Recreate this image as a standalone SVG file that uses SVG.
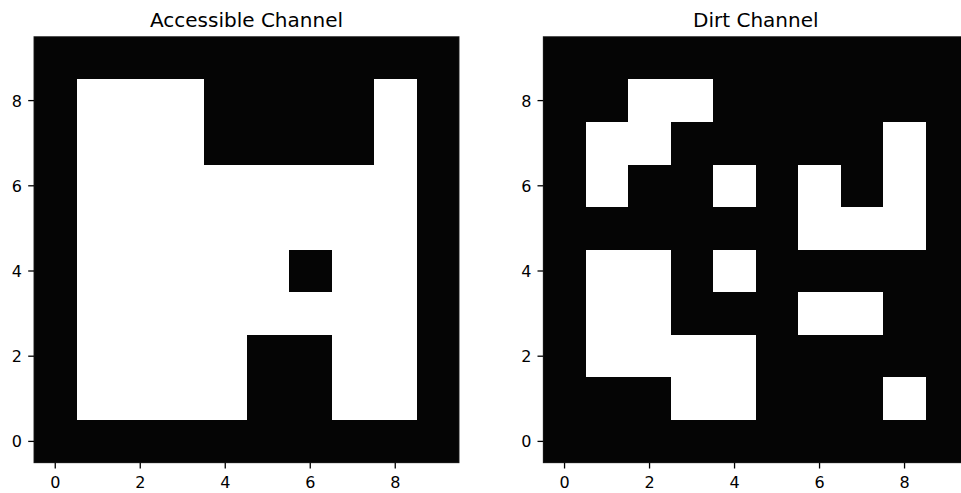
<svg xmlns="http://www.w3.org/2000/svg" width="961" height="493" viewBox="0 0 961 493">
  <style>
    .bg { fill: #ffffff; }
    .blk { fill: #050505; }
    .wht { fill: #ffffff; }
    .cells rect { shape-rendering: crispEdges; }
    .spine { fill: none; stroke: #1a1a1a; stroke-width: 0.9; }
    .tick { stroke: #000; stroke-width: 1.3; }
    .title { font-family: "DejaVu Sans", sans-serif; font-size: 20px; fill: #000; text-anchor: middle; }
    .tl { font-family: "DejaVu Sans", sans-serif; font-size: 16px; fill: #000; }
    .tx { text-anchor: middle; }
    .ty { text-anchor: end; }
  </style>
  <rect class="bg" x="0" y="0" width="961" height="493"/>

  <g id="accessible-channel">
    <text class="title" x="246.5" y="26.7">Accessible Channel</text>
    <g class="cells" transform="translate(34,36.7) scale(42.5,42.6)">
      <rect class="blk" x="0" y="0" width="10" height="10"/>
      <rect class="wht" x="1" y="1" width="8" height="8"/>
      <rect class="blk" x="4" y="1" width="4" height="2"/>
      <rect class="blk" x="6" y="5" width="1" height="1"/>
      <rect class="blk" x="5" y="7" width="2" height="2"/>
    </g>
    <rect class="spine" x="34" y="36.7" width="425" height="426"/>
    <g class="ticks">
      <line class="tick" x1="55.25" y1="462.7" x2="55.25" y2="468.5"/>
      <line class="tick" x1="140.25" y1="462.7" x2="140.25" y2="468.5"/>
      <line class="tick" x1="225.25" y1="462.7" x2="225.25" y2="468.5"/>
      <line class="tick" x1="310.25" y1="462.7" x2="310.25" y2="468.5"/>
      <line class="tick" x1="395.25" y1="462.7" x2="395.25" y2="468.5"/>
      <line class="tick" x1="28.2" y1="100.6" x2="34" y2="100.6"/>
      <line class="tick" x1="28.2" y1="185.8" x2="34" y2="185.8"/>
      <line class="tick" x1="28.2" y1="271" x2="34" y2="271"/>
      <line class="tick" x1="28.2" y1="356.2" x2="34" y2="356.2"/>
      <line class="tick" x1="28.2" y1="441.4" x2="34" y2="441.4"/>
    </g>
    <g class="tl tx">
      <text x="55.25" y="488">0</text>
      <text x="140.25" y="488">2</text>
      <text x="225.25" y="488">4</text>
      <text x="310.25" y="488">6</text>
      <text x="395.25" y="488">8</text>
    </g>
    <g class="tl ty">
      <text x="22" y="106.6">8</text>
      <text x="22" y="191.8">6</text>
      <text x="22" y="277">4</text>
      <text x="22" y="362.2">2</text>
      <text x="22" y="447.4">0</text>
    </g>
  </g>

  <g id="dirt-channel">
    <text class="title" x="755.8" y="26.7">Dirt Channel</text>
    <g class="cells" transform="translate(543.3,36.7) scale(42.5,42.6)">
      <rect class="blk" x="0" y="0" width="10" height="10"/>
      <rect class="wht" x="2" y="1" width="2" height="1"/>
      <rect class="wht" x="1" y="2" width="2" height="1"/>
      <rect class="wht" x="8" y="2" width="1" height="3"/>
      <rect class="wht" x="1" y="3" width="1" height="1"/>
      <rect class="wht" x="4" y="3" width="1" height="1"/>
      <rect class="wht" x="6" y="3" width="1" height="2"/>
      <rect class="wht" x="7" y="4" width="1" height="1"/>
      <rect class="wht" x="1" y="5" width="2" height="3"/>
      <rect class="wht" x="4" y="5" width="1" height="1"/>
      <rect class="wht" x="6" y="6" width="2" height="1"/>
      <rect class="wht" x="3" y="7" width="2" height="2"/>
      <rect class="wht" x="8" y="8" width="1" height="1"/>
    </g>
    <rect class="spine" x="543.3" y="36.7" width="425" height="426"/>
    <g class="ticks">
      <line class="tick" x1="564.55" y1="462.7" x2="564.55" y2="468.5"/>
      <line class="tick" x1="649.55" y1="462.7" x2="649.55" y2="468.5"/>
      <line class="tick" x1="734.55" y1="462.7" x2="734.55" y2="468.5"/>
      <line class="tick" x1="819.55" y1="462.7" x2="819.55" y2="468.5"/>
      <line class="tick" x1="904.55" y1="462.7" x2="904.55" y2="468.5"/>
      <line class="tick" x1="537.5" y1="100.6" x2="543.3" y2="100.6"/>
      <line class="tick" x1="537.5" y1="185.8" x2="543.3" y2="185.8"/>
      <line class="tick" x1="537.5" y1="271" x2="543.3" y2="271"/>
      <line class="tick" x1="537.5" y1="356.2" x2="543.3" y2="356.2"/>
      <line class="tick" x1="537.5" y1="441.4" x2="543.3" y2="441.4"/>
    </g>
    <g class="tl tx">
      <text x="564.55" y="488">0</text>
      <text x="649.55" y="488">2</text>
      <text x="734.55" y="488">4</text>
      <text x="819.55" y="488">6</text>
      <text x="904.55" y="488">8</text>
    </g>
    <g class="tl ty">
      <text x="531.5" y="106.6">8</text>
      <text x="531.5" y="191.8">6</text>
      <text x="531.5" y="277">4</text>
      <text x="531.5" y="362.2">2</text>
      <text x="531.5" y="447.4">0</text>
    </g>
  </g>
</svg>
